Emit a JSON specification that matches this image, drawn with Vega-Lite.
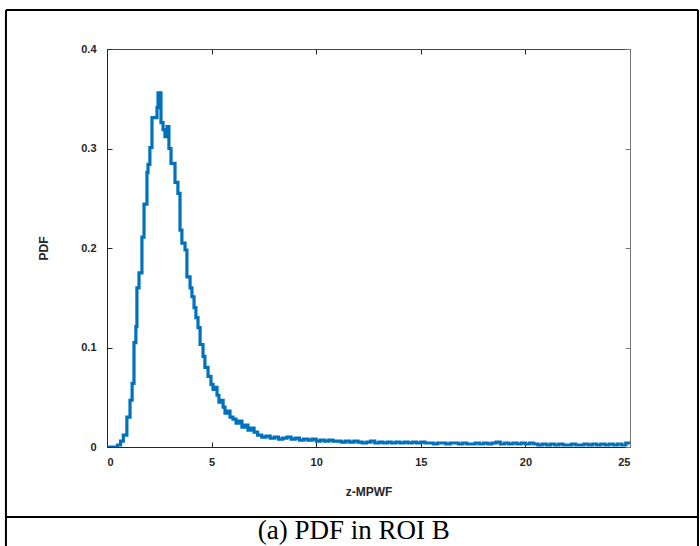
{
  "$schema": "https://vega.github.io/schema/vega-lite/v6.json",
  "width": 523,
  "height": 398,
  "autosize": {"type": "none"},
  "padding": {"left": 107, "top": 49, "right": 70, "bottom": 99},
  "background": "white",
  "config": {
    "view": {"stroke": null},
    "axis": {
      "grid": false,
      "labelFont": "Liberation Sans",
      "labelFontWeight": "bold",
      "labelFontSize": 11,
      "labelColor": "#262626",
      "titleFont": "Liberation Sans",
      "titleFontWeight": "bold",
      "titleFontSize": 12,
      "titleColor": "#262626",
      "domainColor": "#262626",
      "tickColor": "#262626",
      "tickSize": -5,
      "domainWidth": 1
    }
  },
  "datasets": {
    "curve": [
      {"z": 0, "pdf": 0}, {"z": 0.5, "pdf": 0.002}, {"z": 0.65, "pdf": 0.006}, {"z": 0.78, "pdf": 0.012},
      {"z": 0.95, "pdf": 0.03}, {"z": 1.1, "pdf": 0.047}, {"z": 1.2, "pdf": 0.064}, {"z": 1.29, "pdf": 0.105},
      {"z": 1.38, "pdf": 0.121}, {"z": 1.43, "pdf": 0.16}, {"z": 1.53, "pdf": 0.175}, {"z": 1.67, "pdf": 0.211},
      {"z": 1.77, "pdf": 0.244}, {"z": 1.91, "pdf": 0.276}, {"z": 1.96, "pdf": 0.284}, {"z": 2.05, "pdf": 0.301},
      {"z": 2.15, "pdf": 0.331}, {"z": 2.39, "pdf": 0.341}, {"z": 2.44, "pdf": 0.356}, {"z": 2.58, "pdf": 0.326},
      {"z": 2.68, "pdf": 0.319}, {"z": 2.77, "pdf": 0.312}, {"z": 2.87, "pdf": 0.322}, {"z": 2.96, "pdf": 0.3},
      {"z": 3.06, "pdf": 0.285}, {"z": 3.25, "pdf": 0.266}, {"z": 3.39, "pdf": 0.255}, {"z": 3.49, "pdf": 0.218},
      {"z": 3.58, "pdf": 0.205}, {"z": 3.73, "pdf": 0.198}, {"z": 3.82, "pdf": 0.171}, {"z": 3.97, "pdf": 0.16},
      {"z": 4.06, "pdf": 0.151}, {"z": 4.16, "pdf": 0.14}, {"z": 4.25, "pdf": 0.13}, {"z": 4.35, "pdf": 0.12},
      {"z": 4.45, "pdf": 0.103}, {"z": 4.59, "pdf": 0.091}, {"z": 4.68, "pdf": 0.08}, {"z": 4.83, "pdf": 0.071},
      {"z": 4.97, "pdf": 0.063}, {"z": 5.07, "pdf": 0.058}, {"z": 5.16, "pdf": 0.06}, {"z": 5.26, "pdf": 0.052},
      {"z": 5.35, "pdf": 0.045}, {"z": 5.45, "pdf": 0.047}, {"z": 5.55, "pdf": 0.04}, {"z": 5.64, "pdf": 0.034},
      {"z": 5.78, "pdf": 0.036}, {"z": 5.88, "pdf": 0.03}, {"z": 6.02, "pdf": 0.028}, {"z": 6.17, "pdf": 0.024},
      {"z": 6.31, "pdf": 0.026}, {"z": 6.45, "pdf": 0.02}, {"z": 6.6, "pdf": 0.022}, {"z": 6.74, "pdf": 0.017},
      {"z": 6.88, "pdf": 0.019}, {"z": 7.03, "pdf": 0.015}, {"z": 7.2, "pdf": 0.012}, {"z": 7.4, "pdf": 0.01},
      {"z": 7.6, "pdf": 0.011}, {"z": 7.8, "pdf": 0.009}, {"z": 8.0, "pdf": 0.01}, {"z": 8.2, "pdf": 0.008},
      {"z": 8.4, "pdf": 0.009}, {"z": 8.6, "pdf": 0.01}, {"z": 8.8, "pdf": 0.008}, {"z": 9.0, "pdf": 0.009},
      {"z": 9.2, "pdf": 0.007}, {"z": 9.4, "pdf": 0.008}, {"z": 9.6, "pdf": 0.007}, {"z": 9.8, "pdf": 0.008},
      {"z": 10.0, "pdf": 0.006}, {"z": 10.2, "pdf": 0.007}, {"z": 10.4, "pdf": 0.006}, {"z": 10.6, "pdf": 0.007},
      {"z": 10.8, "pdf": 0.006}, {"z": 11.0, "pdf": 0.006}, {"z": 11.2, "pdf": 0.005}, {"z": 11.4, "pdf": 0.006},
      {"z": 11.6, "pdf": 0.005}, {"z": 11.8, "pdf": 0.006}, {"z": 12.0, "pdf": 0.005}, {"z": 12.2, "pdf": 0.004},
      {"z": 12.4, "pdf": 0.005}, {"z": 12.6, "pdf": 0.006}, {"z": 12.8, "pdf": 0.004}, {"z": 13.0, "pdf": 0.005},
      {"z": 13.2, "pdf": 0.004}, {"z": 13.4, "pdf": 0.005}, {"z": 13.6, "pdf": 0.004}, {"z": 13.8, "pdf": 0.005},
      {"z": 14.0, "pdf": 0.004}, {"z": 14.2, "pdf": 0.005}, {"z": 14.4, "pdf": 0.004}, {"z": 14.6, "pdf": 0.005},
      {"z": 14.8, "pdf": 0.004}, {"z": 15.0, "pdf": 0.005}, {"z": 15.2, "pdf": 0.004}, {"z": 15.4, "pdf": 0.004},
      {"z": 15.6, "pdf": 0.003}, {"z": 15.8, "pdf": 0.004}, {"z": 16.0, "pdf": 0.004}, {"z": 16.2, "pdf": 0.003},
      {"z": 16.4, "pdf": 0.004}, {"z": 16.6, "pdf": 0.004}, {"z": 16.8, "pdf": 0.003}, {"z": 17.0, "pdf": 0.004},
      {"z": 17.2, "pdf": 0.003}, {"z": 17.4, "pdf": 0.003}, {"z": 17.6, "pdf": 0.004}, {"z": 17.8, "pdf": 0.003},
      {"z": 18.0, "pdf": 0.004}, {"z": 18.2, "pdf": 0.003}, {"z": 18.4, "pdf": 0.004}, {"z": 18.6, "pdf": 0.005},
      {"z": 18.8, "pdf": 0.003}, {"z": 19.0, "pdf": 0.004}, {"z": 19.2, "pdf": 0.003}, {"z": 19.4, "pdf": 0.004},
      {"z": 19.6, "pdf": 0.003}, {"z": 19.8, "pdf": 0.004}, {"z": 20.0, "pdf": 0.003}, {"z": 20.2, "pdf": 0.004},
      {"z": 20.4, "pdf": 0.003}, {"z": 20.6, "pdf": 0.002}, {"z": 20.8, "pdf": 0.003}, {"z": 21.0, "pdf": 0.002},
      {"z": 21.2, "pdf": 0.003}, {"z": 21.4, "pdf": 0.002}, {"z": 21.6, "pdf": 0.003}, {"z": 21.8, "pdf": 0.002},
      {"z": 22.0, "pdf": 0.002}, {"z": 22.2, "pdf": 0.003}, {"z": 22.4, "pdf": 0.002}, {"z": 22.6, "pdf": 0.002},
      {"z": 22.8, "pdf": 0.003}, {"z": 23.0, "pdf": 0.002}, {"z": 23.2, "pdf": 0.003}, {"z": 23.4, "pdf": 0.002},
      {"z": 23.6, "pdf": 0.003}, {"z": 23.8, "pdf": 0.002}, {"z": 24.0, "pdf": 0.003}, {"z": 24.2, "pdf": 0.002},
      {"z": 24.4, "pdf": 0.003}, {"z": 24.6, "pdf": 0.002}, {"z": 24.8, "pdf": 0.004}, {"z": 25.0, "pdf": 0.003}
    ],
    "frame": [
      {"x": -4.83, "x2": 28.25, "y": 0.4392, "y2": 0.4392},
      {"x": -4.83, "x2": 28.25, "y": -0.0704, "y2": -0.0704},
      {"x": -4.83, "x2": -4.83, "y": 0.4392, "y2": -0.0995},
      {"x": 28.25, "x2": 28.25, "y": 0.4392, "y2": -0.0995}
    ],
    "caption": [{"x": 11.8, "y": -0.0845, "label": "(a) PDF in ROI B"}]
  },
  "resolve": {"axis": {"x": "independent", "y": "independent"}},
  "layer": [
    {
      "data": {"name": "curve"},
      "mark": {"type": "line", "interpolate": "step-after", "color": "#0072BD", "strokeWidth": 3.2, "clip": true},
      "encoding": {
        "x": {"field": "z", "type": "quantitative", "scale": {"domain": [0, 25], "nice": false},
              "axis": {"orient": "bottom", "values": [0, 5, 10, 15, 20, 25], "title": "z-MPWF", "labelPadding": 14, "titlePadding": 19}},
        "y": {"field": "pdf", "type": "quantitative", "scale": {"domain": [0, 0.4], "nice": false},
              "axis": {"orient": "left", "values": [0, 0.1, 0.2, 0.3, 0.4], "format": ".1~f", "title": "PDF", "labelPadding": 16, "titlePadding": 30}}
      }
    },
    {
      "data": {"name": "curve"},
      "mark": {"type": "point", "opacity": 0},
      "encoding": {
        "x": {"field": "z", "type": "quantitative",
              "axis": {"orient": "top", "values": [0, 5, 10, 15, 20, 25], "labels": false, "title": null, "domainColor": "#444"}},
        "y": {"field": "pdf", "type": "quantitative",
              "axis": {"orient": "right", "values": [0, 0.1, 0.2, 0.3, 0.4], "labels": false, "title": null, "domainColor": "#777", "tickColor": "#777"}}
      }
    },
    {
      "data": {"name": "frame"},
      "mark": {"type": "rule", "color": "black", "strokeWidth": 2, "clip": false},
      "encoding": {
        "x": {"field": "x", "type": "quantitative", "axis": null},
        "x2": {"field": "x2"},
        "y": {"field": "y", "type": "quantitative", "axis": null},
        "y2": {"field": "y2"}
      }
    },
    {
      "data": {"name": "caption"},
      "mark": {"type": "text", "font": "Liberation Serif", "fontSize": 27, "color": "black", "align": "center", "baseline": "middle", "clip": false},
      "encoding": {
        "x": {"field": "x", "type": "quantitative", "axis": null},
        "y": {"field": "y", "type": "quantitative", "axis": null},
        "text": {"field": "label"}
      }
    }
  ]
}
